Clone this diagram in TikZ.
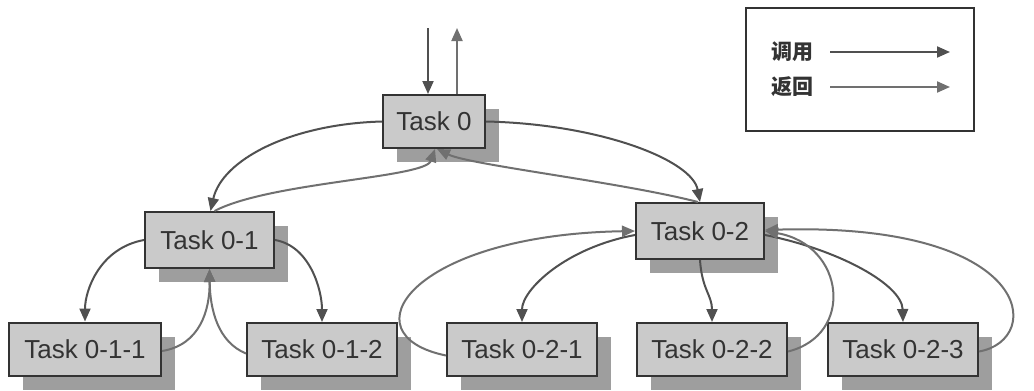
\documentclass[tikz,border=0pt]{standalone}
\usepackage{fontspec}
\setmainfont{Liberation Sans}
\newfontfamily\cjk{Noto Sans CJK SC}
\usetikzlibrary{arrows.meta,shadows}
\definecolor{boxfill}{HTML}{CACACA}
\definecolor{boxline}{HTML}{333333}
\definecolor{callcol}{HTML}{505050}
\definecolor{retcol}{HTML}{707070}
\begin{document}
\begin{tikzpicture}[
    x=0.5pt, y=-0.5pt,
    task/.style={rectangle, draw=boxline, line width=1pt, fill=boxfill,
        inner sep=0pt, minimum height=26.5pt, text=boxline,
        font=\fontsize{13}{15}\selectfont,
        drop shadow={shadow xshift=7pt, shadow yshift=-7pt, fill=black!38, opacity=1}},
    call/.style={draw=callcol, line width=1pt, -{Triangle[length=6.5pt,width=5.5pt]}},
    ret/.style={draw=retcol, line width=1pt, -{Triangle[length=6.5pt,width=5.5pt]}},
    legendbox/.style={rectangle, draw=boxline, line width=1pt, fill=white,
        minimum width=114pt, minimum height=61.5pt},
    legendtext/.style={font=\cjk\bfseries\fontsize{10.5}{12}\selectfont, text=boxline, inner sep=0pt}
]
\useasboundingbox (0,0) rectangle (1034,391);
\fill[white] (0,0) rectangle (1034,391);

\node[task, minimum width=51pt] (t0) at (434,121.5) {Task 0};
\node[task, minimum width=64.5pt, minimum height=28pt] (t01) at (209.5,240) {Task 0-1};
\node[task, minimum width=64pt, minimum height=28pt] (t02) at (700,231) {Task 0-2};
\node[task, minimum width=76pt] (t011) at (85,349) {Task 0-1-1};
\node[task, minimum width=75pt] (t012) at (322,349.5) {Task 0-1-2};
\node[task, minimum width=75pt] (t021) at (522,349.5) {Task 0-2-1};
\node[task, minimum width=75pt] (t022) at (712,349.5) {Task 0-2-2};
\node[task, minimum width=75pt] (t023) at (903,349.5) {Task 0-2-3};

\coordinate (in0) at (428,28);
\coordinate (out0) at (457,28);
\draw[call] (in0) -- (t0.north -| in0);
\draw[ret] (t0.north -| out0) -- (out0);

\draw[call] (t0.west) .. controls (290,124) and (222,160) .. ([xshift=0.5pt]t01.north);
\draw[ret] ([xshift=2.5pt]t01.north) .. controls (270,182) and (425,178) .. ([xshift=0.5pt]t0.south);
\draw[call] (t0.east) .. controls (600,124) and (692,160) .. (t02.north);
\draw[ret] ([xshift=-1pt]t02.north) .. controls (620,182) and (470,165) .. ([xshift=1.5pt]t0.south);

\draw[call] (t01.west) .. controls (100,248) and (85,290) .. (t011.north);
\draw[call] (t01.east) .. controls (310,246) and (322,290) .. (t012.north);
\draw[ret] ([yshift=-1pt]t011.east) .. controls (200,345) and (210,310) .. (t01.south);
\draw[ret] ([yshift=-2pt]t012.west) .. controls (218,342) and (210,310) .. (t01.south);

\draw[call] ([yshift=-2pt]t02.west) .. controls (565,248) and (522,290) .. (t021.north);
\draw[ret] ([yshift=-3pt]t021.west) .. controls (345,335) and (410,235) .. (t02.west);
\draw[call] (t02.south) .. controls (702,290) and (712,295) .. (t022.north);
\draw[call] ([yshift=-2pt]t02.east) .. controls (840,250) and (902,285) .. (t023.north);
\draw[ret] ([yshift=-1pt]t022.east) .. controls (855,335) and (845,245) .. (t02.east);
\draw[ret] ([yshift=-1pt]t023.east) .. controls (1045,340) and (1035,222) .. ([yshift=0.5pt]t02.east);

\node[legendbox] (legend) at (860,69.5) {};
\node[legendtext] (lcall) at (792,52) {调用};
\node[legendtext] (lret) at (792,87) {返回};
\coordinate (lcall1) at (830,52);
\coordinate (lcall2) at (950,52);
\coordinate (lret1) at (830,87);
\coordinate (lret2) at (950,87);
\draw[call] (lcall1) -- (lcall2);
\draw[ret] (lret1) -- (lret2);
\end{tikzpicture}
\end{document}
